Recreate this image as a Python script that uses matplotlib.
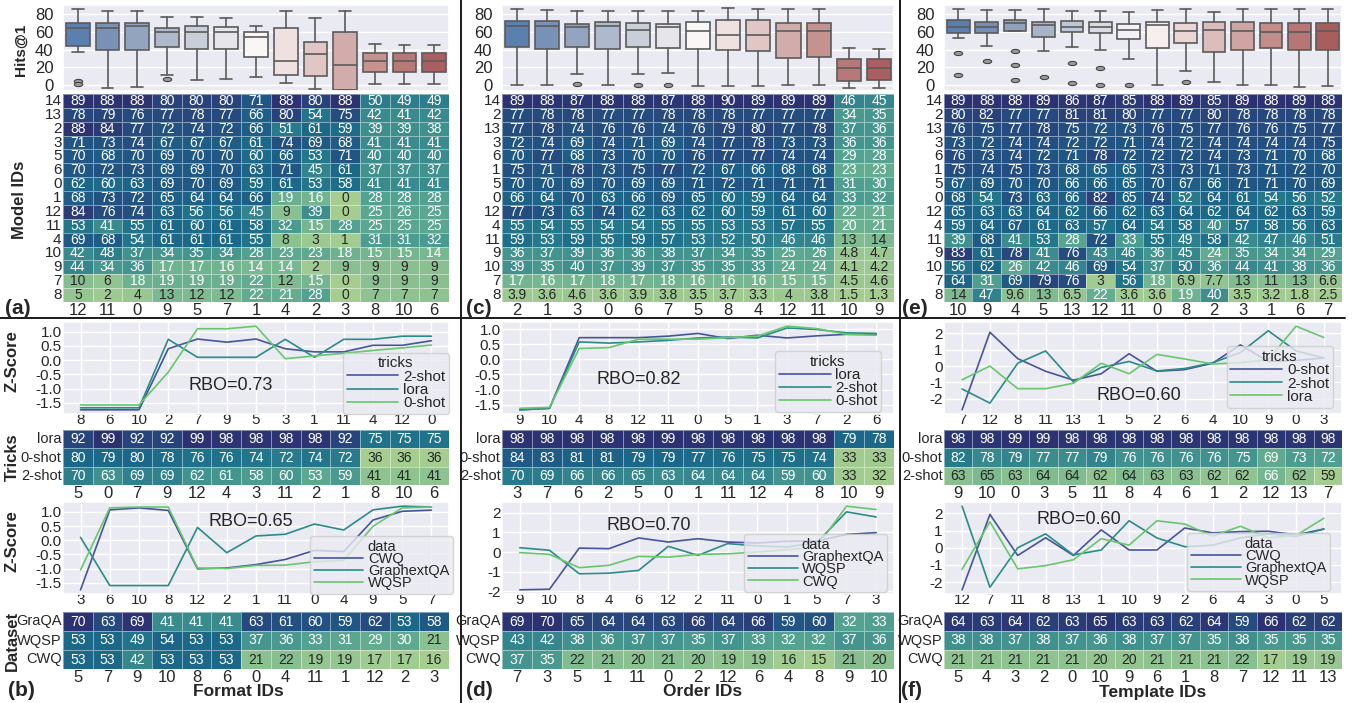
import numpy as np
import matplotlib
matplotlib.use("Agg")
import matplotlib.pyplot as plt
import seaborn as sns
from matplotlib import font_manager
from matplotlib.lines import Line2D
from matplotlib.path import Path
from matplotlib.transforms import Affine2D

sns.set_theme(style="darkgrid")
plt.rcParams['font.family'] = ['Liberation Sans', 'DejaVu Sans']
plt.rcParams['axes.unicode_minus'] = False
names = {f.name for f in font_manager.fontManager.ttflist}
narrow = 'Liberation Sans Narrow' if 'Liberation Sans Narrow' in names else 'Liberation Sans'

# ---------------- data: Format (a, b) ----------------
fmt_ids = [12, 11, 0, 9, 5, 7, 1, 4, 2, 3, 8, 10, 6]
fmt_models = [14, 13, 2, 3, 5, 6, 0, 1, 12, 11, 4, 10, 9, 7, 8]
fmt_hits = [
    [89, 88, 88, 80, 80, 80, 71, 88, 80, 88, 50, 49, 49],
    [78, 79, 76, 77, 78, 77, 66, 80, 54, 75, 42, 41, 42],
    [88, 84, 77, 72, 74, 72, 66, 51, 61, 59, 39, 39, 38],
    [71, 73, 74, 67, 67, 67, 61, 74, 69, 68, 41, 41, 41],
    [70, 68, 70, 69, 70, 70, 60, 66, 53, 71, 40, 40, 40],
    [70, 72, 73, 69, 69, 70, 63, 71, 45, 61, 37, 37, 37],
    [62, 60, 63, 69, 70, 69, 59, 61, 53, 58, 41, 41, 41],
    [68, 73, 72, 65, 64, 64, 66, 19, 16, 0, 28, 28, 28],
    [84, 76, 74, 63, 56, 56, 45, 9, 39, 0, 25, 26, 25],
    [53, 41, 55, 61, 60, 61, 58, 32, 15, 28, 25, 25, 25],
    [69, 68, 54, 61, 61, 61, 55, 8, 3, 1, 31, 31, 32],
    [42, 48, 37, 34, 35, 34, 28, 23, 23, 18, 15, 15, 14],
    [44, 34, 36, 17, 17, 16, 14, 14, 2, 9, 9, 9, 9],
    [10, 6, 18, 19, 19, 19, 22, 12, 15, 0, 9, 9, 9],
    [5, 2, 4, 13, 12, 12, 22, 21, 28, 0, 7, 7, 7],
]
fmt_box_hi = [85, 83, 83, 76, 76, 75, 66.5, 83.6, 75, 83.6, 46, 44.6, 44.6]
fmt_box_q3 = [69.5, 70, 69.5, 64, 66, 65, 60, 64, 49, 59.5, 36, 36, 36]
fmt_box_med = [64, 64, 66.5, 59.5, 59.5, 59.5, 54.6, 26.8, 35, 23, 26.8, 26.8, 26.8]
fmt_box_q1 = [43.5, 39, 40, 43, 40.5, 40.5, 31.6, 11, 10, -5, 14.9, 14.9, 14.9]
fmt_box_lo = [37.5, -3, -2, 12, 6.3, 7, 9, 2.6, -3.7, -5, 1.9, 1.9, 1.9]
fmt_box_fliers = [[5, 1], [], [], [7.5], [], [], [], [], [], [], [], [], []]

fmt_trick_ids = [5, 0, 7, 9, 12, 4, 3, 11, 2, 1, 8, 10, 6]
fmt_tricks = [
    [92, 99, 92, 92, 99, 98, 98, 98, 98, 92, 75, 75, 75],
    [80, 79, 80, 78, 76, 76, 74, 72, 74, 72, 36, 36, 36],
    [70, 63, 69, 69, 62, 61, 58, 60, 53, 59, 41, 41, 41],
]
fmt_zt_ids = [8, 6, 10, 2, 7, 9, 5, 3, 1, 11, 4, 12, 0]
fmt_zt_labels = ['2-shot', 'lora', '0-shot']
fmt_zt_1 = [-1.74, -1.74, -1.74, 0.40, 0.74, 0.63, 0.74, 0.40, 0.29, 0.29, 0.52, 0.52, 0.68]
fmt_zt_2 = [-1.67, -1.67, -1.67, 0.73, 0.10, 0.10, 0.10, 0.73, 0.10, 0.73, 0.73, 0.84, 0.84]
fmt_zt_3 = [-1.57, -1.57, -1.57, -0.42, 1.10, 1.10, 1.19, 0.05, 0.15, 0.24, 0.34, 0.43, 0.53]

fmt_data_ids = [5, 7, 9, 10, 8, 6, 0, 4, 11, 1, 12, 2, 3]
fmt_data = [
    [70, 63, 69, 41, 41, 41, 63, 61, 60, 59, 62, 53, 58],
    [53, 53, 49, 54, 53, 53, 37, 36, 33, 31, 29, 30, 21],
    [53, 53, 42, 53, 53, 53, 21, 22, 19, 19, 17, 17, 16],
]
fmt_zd_ids = [3, 6, 10, 8, 12, 2, 1, 11, 0, 4, 9, 5, 7]
fmt_zd_labels = ['CWQ', 'GraphextQA', 'WQSP']
fmt_zd_1 = [-1.75, 1.07, 1.14, 1.05, -1.01, -0.98, -0.86, -0.68, -0.36, -0.40, 0.71, 1.02, 1.06]
fmt_zd_2 = [0.10, -1.60, -1.60, -1.60, 0.45, -0.44, 0.15, 0.21, 0.57, 0.36, 1.07, 1.20, 1.17]
fmt_zd_3 = [-1.05, 1.14, 1.17, 1.17, -0.98, -1.00, -0.89, -0.88, -0.76, -0.71, 0.49, 1.14, 1.17]

# ---------------- data: Order (c, d) ----------------
ord_ids = [2, 1, 3, 0, 6, 7, 5, 8, 4, 12, 11, 10, 9]
ord_models = [14, 2, 13, 3, 6, 1, 5, 0, 12, 4, 11, 9, 10, 7, 8]
ord_hits = [
    [89, 88, 87, 88, 88, 87, 88, 90, 89, 89, 89, 46, 45],
    [77, 78, 78, 77, 77, 78, 78, 78, 77, 77, 77, 34, 35],
    [77, 78, 74, 76, 76, 74, 76, 79, 80, 77, 78, 37, 36],
    [72, 74, 69, 74, 71, 69, 74, 77, 78, 73, 73, 36, 36],
    [70, 77, 68, 73, 70, 70, 76, 77, 77, 74, 74, 29, 28],
    [75, 71, 78, 73, 75, 77, 72, 67, 66, 68, 68, 23, 23],
    [70, 70, 69, 70, 69, 69, 71, 72, 71, 71, 71, 31, 30],
    [66, 64, 70, 63, 66, 69, 65, 60, 59, 64, 64, 33, 32],
    [77, 73, 63, 74, 62, 63, 62, 60, 59, 61, 60, 22, 21],
    [55, 54, 55, 54, 54, 55, 55, 53, 53, 57, 55, 20, 21],
    [59, 53, 59, 55, 59, 57, 53, 52, 50, 46, 46, 13, 14],
    [36, 37, 39, 36, 36, 38, 37, 34, 35, 25, 26, 4.8, 4.7],
    [39, 35, 40, 37, 39, 37, 35, 35, 33, 24, 24, 4.1, 4.2],
    [17, 16, 17, 18, 17, 18, 16, 16, 16, 15, 15, 4.5, 4.6],
    [3.9, 3.6, 4.6, 3.6, 3.9, 3.8, 3.5, 3.7, 3.3, 4, 3.8, 1.5, 1.3],
]
ord_box_hi = [85, 84.5, 83.8, 83.8, 83.8, 83.8, 83.8, 86.4, 85, 85.7, 85.7, 41.5, 40.4]
ord_box_q3 = [72.5, 71.7, 68.7, 70.6, 69.4, 68.7, 71.3, 73.6, 73.6, 69.8, 69.8, 29, 29]
ord_box_med = [66, 66.8, 65, 66, 62, 65.7, 61, 56, 56, 60.4, 60.4, 19.6, 19.6]
ord_box_q1 = [43, 41, 43.4, 41, 43, 42.3, 41, 39.6, 38.5, 31, 31.7, 4.5, 5.3]
ord_box_lo = [0, 0, 13, 0, 12.8, 14, -1, -1, -1, 0, 0, -3, -3]
ord_box_fliers = [[], [], [0.8], [], [0], [0], [], [], [], [], [], [], []]

ord_trick_ids = [3, 7, 6, 2, 5, 0, 1, 11, 12, 4, 8, 10, 9]
ord_tricks = [
    [98, 98, 98, 98, 98, 99, 98, 98, 98, 98, 98, 79, 78],
    [84, 83, 81, 81, 79, 79, 77, 76, 75, 75, 74, 33, 33],
    [70, 69, 66, 66, 65, 63, 64, 64, 64, 59, 60, 33, 32],
]
ord_zt_ids = [9, 10, 4, 8, 12, 11, 0, 5, 1, 3, 7, 2, 6]
ord_zt_labels = ['lora', '2-shot', '0-shot']
ord_zt_1 = [-1.67, -1.62, 0.72, 0.72, 0.72, 0.77, 0.86, 0.69, 0.80, 0.71, 0.78, 0.83, 0.83]
ord_zt_2 = [-1.67, -1.62, 0.58, 0.54, 0.58, 0.63, 0.71, 0.74, 0.71, 1.04, 0.99, 0.88, 0.86]
ord_zt_3 = [-1.62, -1.59, 0.36, 0.39, 0.67, 0.67, 0.67, 0.72, 0.77, 1.10, 1.02, 0.83, 0.80]

ord_data_ids = [7, 3, 5, 1, 11, 0, 2, 12, 6, 4, 8, 9, 10]
ord_data = [
    [69, 70, 65, 64, 64, 63, 66, 64, 66, 59, 60, 32, 33],
    [43, 42, 38, 36, 37, 37, 35, 37, 33, 32, 32, 37, 36],
    [37, 35, 22, 21, 20, 21, 20, 19, 19, 16, 15, 21, 20],
]
ord_zd_ids = [9, 10, 8, 4, 6, 12, 2, 11, 0, 1, 5, 7, 3]
ord_zd_labels = ['GraphextQA', 'WQSP', 'CWQ']
ord_zd_1 = [-1.93, -1.90, 0.20, 0.17, 0.72, 0.51, 0.68, 0.51, 0.46, 0.55, 0.56, 0.90, 0.99]
ord_zd_2 = [0.22, 0.09, -1.11, -1.08, -0.94, 0.29, -0.17, 0.43, 0.31, 0.26, 0.48, 2.05, 1.79]
ord_zd_3 = [-0.03, -0.12, -0.80, -0.68, -0.22, -0.26, -0.12, -0.09, 0.00, 0.12, 0.26, 2.34, 2.17]

# ---------------- data: Template (e, f) ----------------
tpl_ids = [10, 9, 4, 5, 13, 12, 11, 0, 8, 2, 3, 1, 6, 7]
tpl_models = [14, 2, 13, 3, 6, 1, 5, 0, 12, 4, 11, 9, 10, 7, 8]
tpl_hits = [
    [89, 88, 88, 89, 86, 87, 85, 88, 89, 85, 89, 88, 89, 88],
    [80, 82, 77, 77, 81, 81, 80, 77, 77, 80, 78, 78, 78, 78],
    [76, 75, 77, 78, 75, 72, 73, 76, 75, 77, 76, 76, 75, 77],
    [73, 72, 74, 74, 72, 72, 71, 74, 72, 74, 74, 74, 74, 75],
    [76, 73, 74, 72, 71, 78, 72, 72, 72, 74, 73, 71, 70, 68],
    [75, 74, 75, 73, 68, 65, 65, 73, 73, 71, 73, 71, 72, 70],
    [67, 69, 70, 70, 66, 66, 65, 70, 67, 66, 71, 71, 70, 69],
    [68, 54, 73, 63, 66, 82, 65, 74, 52, 64, 61, 54, 56, 52],
    [65, 63, 63, 64, 62, 66, 62, 63, 64, 62, 64, 62, 63, 59],
    [59, 64, 67, 61, 63, 57, 64, 54, 58, 40, 57, 58, 56, 63],
    [39, 68, 41, 53, 28, 72, 33, 55, 49, 58, 42, 47, 46, 51],
    [83, 61, 78, 41, 76, 43, 46, 36, 45, 24, 35, 34, 34, 29],
    [56, 62, 26, 42, 46, 69, 54, 37, 50, 36, 44, 41, 38, 36],
    [64, 31, 69, 79, 76, 3, 56, 18, 6.9, 7.7, 13, 11, 13, 6.6],
    [14, 47, 9.6, 13, 6.5, 22, 3.6, 3.6, 19, 40, 3.5, 3.2, 1.8, 2.5],
]
tpl_box_hi = [85.7, 84.6, 84.6, 85.7, 83, 83, 82, 84.6, 85.7, 82.7, 85.7, 85.7, 85.7, 85.7]
tpl_box_q3 = [73.3, 70.7, 73.3, 70.7, 72.6, 71.4, 68.8, 71.4, 70, 71.4, 70.7, 70, 70, 70]
tpl_box_med = [65, 65, 70, 67.7, 65.8, 65.8, 62.4, 67.7, 60.5, 62, 60.5, 59.4, 59.4, 60.5]
tpl_box_q1 = [58.6, 58.6, 61.3, 53.8, 59.4, 58.3, 51.9, 41.7, 47.4, 37.6, 39.8, 41.4, 39.5, 39.8]
tpl_box_lo = [53, 43.6, 60.5, 38, 43.2, 39.5, 29.3, 0.4, 16.2, 4.1, 0, 0, -1.5, -0.8]
tpl_box_fliers = [[35.7, 11.3], [27.4], [38, 23, 6.4], [9.4], [24.4, 3], [19.2, 0], [0],
                  [], [3.8], [], [], [], [], []]

tpl_trick_ids = [9, 10, 0, 3, 5, 11, 8, 4, 6, 1, 2, 12, 13, 7]
tpl_tricks = [
    [98, 98, 99, 99, 98, 98, 98, 98, 98, 98, 98, 98, 98, 98],
    [82, 78, 79, 77, 77, 79, 76, 76, 76, 76, 75, 69, 73, 72],
    [63, 65, 63, 64, 64, 62, 64, 63, 63, 62, 62, 66, 62, 59],
]
tpl_zt_ids = [7, 12, 8, 11, 13, 1, 5, 2, 6, 4, 10, 9, 0, 3]
tpl_zt_labels = ['0-shot', '2-shot', 'lora']
tpl_zt_1 = [-2.67, 2.06, 0.45, -0.32, -0.86, -0.47, 0.75, -0.32, -0.22, 0.17, 1.29, 0.28, 0.34, 0.49]
tpl_zt_2 = [-1.40, -2.26, 0.17, 0.92, -0.97, -0.09, 0.28, -0.30, -0.15, 0.20, 0.82, 2.15, 0.92, 0.49]
tpl_zt_3 = [-0.84, 0.00, -1.38, -1.38, -1.05, 0.17, -0.47, 0.71, 0.43, 0.13, 0.20, 0.39, 2.43, 1.74]

tpl_data_ids = [5, 4, 3, 2, 0, 10, 9, 6, 1, 8, 7, 12, 11, 13]
tpl_data = [
    [64, 63, 64, 62, 63, 65, 63, 63, 62, 64, 59, 66, 62, 62],
    [38, 38, 37, 38, 37, 36, 38, 37, 37, 35, 38, 35, 35, 35],
    [21, 21, 21, 21, 21, 20, 20, 21, 21, 21, 22, 17, 19, 19],
]
tpl_zd_ids = [12, 7, 11, 8, 13, 1, 10, 9, 2, 6, 4, 3, 0, 5]
tpl_zd_labels = ['CWQ', 'GraphextQA', 'WQSP']
tpl_zd_1 = [-2.45, 1.94, -0.45, 0.58, -0.45, 1.04, -0.13, -0.13, 1.15, 0.87, 0.94, 0.96, 0.75, 1.09]
tpl_zd_2 = [2.42, -2.30, 0.00, 0.81, -0.42, -0.13, 1.57, 0.57, 0.06, 0.15, 0.57, 0.81, 0.66, 1.09]
tpl_zd_3 = [-1.26, 1.51, -1.23, -1.04, -0.70, 0.53, 0.15, 1.57, 1.38, 0.68, 1.25, 0.58, 0.72, 1.72]

trick_rows = ['lora', '0-shot', '2-shot']
data_rows = ['GraQA', 'WQSP', 'CWQ']
rbo_tricks = ['0.73', '0.82', '0.60']
rbo_data = ['0.65', '0.70', '0.60']

# ---------------- figure ----------------
W, H = 1354, 703
fig = plt.figure(figsize=(W / 100, H / 100), dpi=100)


def px_axes(l, t, r, b):
    return fig.add_axes([l / W, 1 - b / H, (r - l) / W, (b - t) / H])


line_cols = ['#46559a', '#2b8b89', '#67c76b']
edge = '#5b5b5b'
oval = Path.unit_circle().transformed(Affine2D().scale(1.0, 0.5))


def draw_box(ax, hi, q3, med, q1, lo, fl):
    n = len(med)
    stats = [dict(whishi=hi[i], q3=q3[i], med=med[i], q1=q1[i], whislo=lo[i], fliers=fl[i])
             for i in range(n)]
    pal = [sns.desaturate(c, 0.75) for c in sns.color_palette('vlag', n)]
    lp = dict(color=edge, lw=1.2)
    art = ax.bxp(stats, positions=np.arange(n) + 0.5, widths=0.8, patch_artist=True,
                 boxprops=dict(edgecolor=edge, lw=1.2), medianprops=lp, whiskerprops=lp,
                 capprops=lp, flierprops=dict(marker=oval, markersize=6, markerfacecolor='#9a9a9a',
                                              markeredgecolor='#444444', markeredgewidth=0.8))
    for p, c in zip(art['boxes'], pal):
        p.set_facecolor(c)
    ax.set_xlim(0, n)
    ax.set_ylim(-6.5, 90)
    ax.set_xticks([])
    ax.set_yticks([0, 20, 40, 60, 80])
    ax.tick_params(axis='y', labelsize=12, pad=1)
    ax.grid(axis='x', visible=False)


def draw_hm(ax, data, xl, yl, yfont, ysize, asize):
    sns.heatmap(np.array(data, dtype=float), ax=ax, annot=True, fmt='.2g', cmap='crest',
                cbar=False, linewidths=0.6, linecolor=(1, 1, 1, 0.45),
                annot_kws={'size': asize})
    ax.set_xticks(np.arange(len(xl)) + 0.5)
    ax.set_xticklabels(xl, rotation=0, fontsize=12)
    ax.set_yticks(np.arange(len(yl)) + 0.5)
    ax.set_yticklabels(yl, rotation=0, fontsize=ysize, family=yfont)
    ax.tick_params(length=0, pad=1)
    ax.set_xlabel('')
    ax.set_ylabel('')


def draw_lines(ax, ids, series, labels, title, rbo, rxy, lxy, yticks, fs, lsp):
    x = np.arange(len(ids))
    for vals, lab, c in zip(series, labels, line_cols):
        ax.plot(x, vals, color=c, lw=1.2, label=lab)
    ax.set_xticks(x)
    ax.set_xticklabels(ids, fontsize=11)
    ax.set_yticks(yticks)
    ax.tick_params(axis='y', labelsize=11, pad=1, length=0)
    ax.tick_params(axis='x', pad=-1, length=0)
    ax.text(rxy[0], rxy[1], 'RBO=' + rbo, transform=ax.transAxes, ha='center', va='center',
            fontsize=13)
    ax.legend(title=title, loc='lower right', bbox_to_anchor=lxy, borderaxespad=0,
              fontsize=fs, title_fontsize=fs, handlelength=3.4, labelspacing=lsp,
              borderpad=0.25, handletextpad=0.3)


cols = [(63, 449), (502, 894), (944, 1342)]
z_half = [-1.5, -1.0, -0.5, 0.0, 0.5, 1.0]
z_int = [-2, -1, 0, 1, 2]

panels = [
    dict(hits=fmt_hits, ids=fmt_ids, models=fmt_models,
         box=(fmt_box_hi, fmt_box_q3, fmt_box_med, fmt_box_q1, fmt_box_lo, fmt_box_fliers),
         tids=fmt_trick_ids, tr=fmt_tricks, ztids=fmt_zt_ids, zt=[fmt_zt_1, fmt_zt_2, fmt_zt_3],
         ztl=fmt_zt_labels, dids=fmt_data_ids, dd=fmt_data, zdids=fmt_zd_ids,
         zd=[fmt_zd_1, fmt_zd_2, fmt_zd_3], zdl=fmt_zd_labels,
         trxy=(0.435, 0.31), tlxy=(1.0, 0.0), drxy=(0.487, 0.79), dlxy=(1.01, 0.0),
         tyt=z_half, dyt=z_half),
    dict(hits=ord_hits, ids=ord_ids, models=ord_models,
         box=(ord_box_hi, ord_box_q3, ord_box_med, ord_box_q1, ord_box_lo, ord_box_fliers),
         tids=ord_trick_ids, tr=ord_tricks, ztids=ord_zt_ids, zt=[ord_zt_1, ord_zt_2, ord_zt_3],
         ztl=ord_zt_labels, dids=ord_data_ids, dd=ord_data, zdids=ord_zd_ids,
         zd=[ord_zd_1, ord_zd_2, ord_zd_3], zdl=ord_zd_labels,
         trxy=(0.35, 0.38), tlxy=(0.967, 0.02), drxy=(0.375, 0.75), dlxy=(0.982, 0.02),
         tyt=z_half, dyt=z_int),
    dict(hits=tpl_hits, ids=tpl_ids, models=tpl_models,
         box=(tpl_box_hi, tpl_box_q3, tpl_box_med, tpl_box_q1, tpl_box_lo, tpl_box_fliers),
         tids=tpl_trick_ids, tr=tpl_tricks, ztids=tpl_zt_ids, zt=[tpl_zt_1, tpl_zt_2, tpl_zt_3],
         ztl=tpl_zt_labels, dids=tpl_data_ids, dd=tpl_data, zdids=tpl_zd_ids,
         zd=[tpl_zd_1, tpl_zd_2, tpl_zd_3], zdl=tpl_zd_labels,
         trxy=(0.49, 0.2), tlxy=(0.977, 0.07), drxy=(0.34, 0.81), dlxy=(0.97, 0.03),
         tyt=z_int, dyt=z_int),
]

for k, (p, (l, r)) in enumerate(zip(panels, cols)):
    ax = px_axes(l, 5, r, 91)
    draw_box(ax, *p['box'])
    ax = px_axes(l, 94, r, 302)
    draw_hm(ax, p['hits'], p['ids'], p['models'], 'Liberation Sans', 11, 10)
    ax = px_axes(l, 322, r, 414)
    draw_lines(ax, p['ztids'], p['zt'], p['ztl'], 'tricks', rbo_tricks[k], p['trxy'], p['tlxy'],
               p['tyt'], 11, -0.05)
    ax = px_axes(l, 430, r, 485)
    draw_hm(ax, p['tr'], p['tids'], trick_rows, narrow, 10.5, 10)
    ax = px_axes(l, 502, r, 594)
    draw_lines(ax, p['zdids'], p['zd'], p['zdl'], 'data', rbo_data[k], p['drxy'], p['dlxy'],
               p['dyt'], 10.5, -0.12)
    ax = px_axes(l, 612, r, 669)
    draw_hm(ax, p['dd'], p['dids'], data_rows, narrow, 10.5, 10)


def ftxt(x, y, s, **kw):
    fig.text(x / W, 1 - y / H, s, ha='center', va='center', **kw)


ftxt(21, 50, 'Hits@1', rotation=90, fontsize=11, fontweight='bold')
ftxt(20, 200, 'Model IDs', rotation=90, fontsize=12, fontweight='bold')
ftxt(12, 361, 'Z-Score', rotation=90, fontsize=12, fontweight='bold')
ftxt(12, 457, 'Tricks', rotation=90, fontsize=12, fontweight='bold')
ftxt(12, 541, 'Z-Score', rotation=90, fontsize=12, fontweight='bold')
ftxt(12, 641, 'Dataset', rotation=90, fontsize=12, fontweight='bold')
ftxt(238, 692, 'Format IDs', fontsize=12.5, fontweight='bold')
ftxt(703, 692, 'Order IDs', fontsize=12.5, fontweight='bold')
ftxt(1153, 692, 'Template IDs', fontsize=12.5, fontweight='bold')
for s, x, y in [('(a)', 18, 309), ('(c)', 479, 308), ('(e)', 915, 309),
                ('(b)', 21, 691), ('(d)', 479, 690), ('(f)', 912, 690)]:
    ftxt(x, y, s, fontsize=15, fontweight='bold')

for x in [461, 900]:
    fig.add_artist(Line2D([x / W, x / W], [0, 1], transform=fig.transFigure, color='k', lw=1.4))
fig.add_artist(Line2D([0, 1345 / W], [1 - 318 / H, 1 - 318 / H], transform=fig.transFigure,
                      color='k', lw=1.4))

fig.savefig('out.png', dpi=100)
